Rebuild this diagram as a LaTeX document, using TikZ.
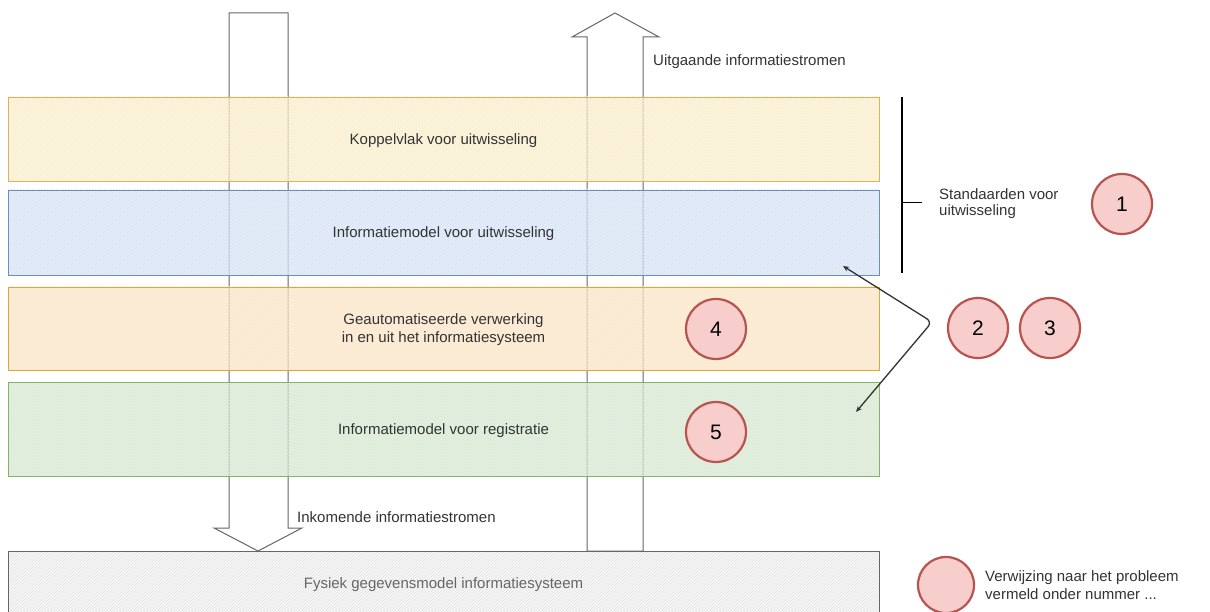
\documentclass[tikz,border=0pt]{standalone}
\usepackage{fontspec}
\setmainfont{Liberation Sans}
\usetikzlibrary{arrows.meta,patterns,positioning}

\definecolor{geelvul}{HTML}{FFF2CC}\definecolor{geelrand}{HTML}{D6B656}
\definecolor{blauwvul}{HTML}{DAE8FC}\definecolor{blauwrand}{HTML}{6C8EBF}
\definecolor{oranjevul}{HTML}{FFE6CC}\definecolor{oranjerand}{HTML}{E0A830}
\definecolor{groenvul}{HTML}{D5E8D4}\definecolor{groenrand}{HTML}{82B366}
\definecolor{grijsvul}{HTML}{F5F5F5}\definecolor{grijsrand}{HTML}{666666}
\definecolor{rodevul}{HTML}{F8CECC}\definecolor{roderand}{HTML}{B85450}
\definecolor{tekst}{HTML}{333333}

\begin{document}
\begin{tikzpicture}[x=1pt,y=-1pt,font=\fontsize{15}{18}\selectfont,text=tekst,
    laag/.style 2 args={draw=#1,line width=0.9pt,preaction={fill=#2,fill opacity=0.65},
      pattern=north east lines,pattern color=#1!30,minimum width=871pt,inner sep=0pt,align=center,
      text depth=0pt},
    nr/.style={circle,draw=roderand,line width=2.2pt,fill=rodevul,minimum size=60pt,inner sep=0pt,
      text=black,font=\fontsize{21}{24}\selectfont},
    pijl/.style={draw=grijsrand,line width=1pt,fill=white},
    los/.style={anchor=west,inner sep=0pt,align=left}]
  \useasboundingbox (0,0) rectangle (1210,612);
  \clip (0,0) rectangle (1210,612);

  % stromen
  \draw[pijl] (229,13)--(229,528)--(214,528)--(258,551)--(302,528)--(288,528)--(288,13)--cycle;
  \draw[pijl] (587,551)--(587,37)--(572,37)--(615,13)--(659,37)--(643,37)--(643,551)--cycle;

  % lagen
  \node[laag={geelrand}{geelvul},minimum height=84pt] (kop) at (443.5,139) {Koppelvlak voor uitwisseling};
  \node[laag={blauwrand}{blauwvul},minimum height=85pt] (imu) at (443.5,232.5) {Informatiemodel voor uitwisseling};
  \node[laag={oranjerand}{oranjevul},minimum height=83pt] (gav) at (443.5,328.5) {Geautomatiseerde verwerking\\in en uit het informatiesysteem};
  \node[laag={groenrand}{groenvul},minimum height=94pt] (imr) at (443.5,429) {Informatiemodel voor registratie};
  \node[laag={grijsrand}{grijsvul},pattern color=grijsrand!20,minimum height=64pt,text=grijsrand] (fys) at (443.5,583) {Fysiek gegevensmodel informatiesysteem};

  \node[los] (uit) at (653,62) {Uitgaande informatiestromen};
  \node[los] (ink) at (297,517) {Inkomende informatiestromen};

  % standaarden
  \coordinate (bt) at (902,97);
  \coordinate (bb) at (902,273);
  \coordinate (bm) at (902,203);
  \draw[line width=1.2pt] (bt)--(bb);
  \draw[line width=1pt] (bm)--+(20,0);
  \node[los,font=\fontsize{15}{16}\selectfont] (std) at (939,204) {Standaarden voor\\uitwisseling};

  % nummers
  \node[nr] (p1) at (1122,204) {1};
  \node[nr] (p2) at (978,328) {2};
  \node[nr] (p3) at (1050,328) {3};
  \node[nr] (p4) at (716,329) {4};
  \node[nr] (p5) at (716,432) {5};

  \coordinate (hoek) at (932,322);
  \coordinate (boven) at (843,266);
  \coordinate (onder) at (856,412);
  \draw[{Stealth[length=6pt,width=5pt]}-{Stealth[length=6pt,width=5pt]},draw=tekst,line width=1.3pt,rounded corners=6pt]
    (boven)--(hoek)--(onder);

  % legenda
  \node[nr,minimum size=56pt] (pl) at (946,585) {};
  \node[los] (leg) at (985,585) {Verwijzing naar het probleem\\vermeld onder nummer ...};
\end{tikzpicture}
\end{document}
